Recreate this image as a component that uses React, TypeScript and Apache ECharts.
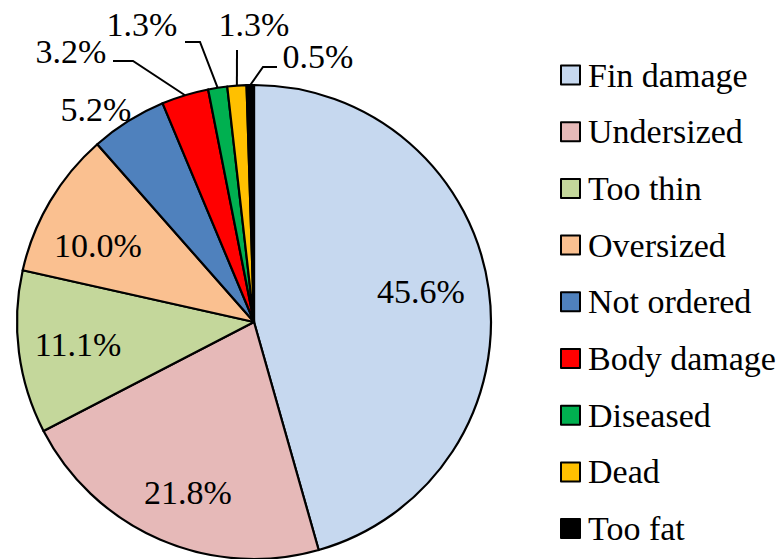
import React, { useEffect, useRef } from "react";
import * as echarts from "echarts";

const categories = ["Fin damage", "Undersized", "Too thin", "Oversized", "Not ordered", "Body damage", "Diseased", "Dead", "Too fat"];
const shares = [45.6, 21.8, 11.1, 10.0, 5.2, 3.2, 1.3, 1.3, 0.5];
const colors = ["#C6D8EF", "#E6B9B8", "#C4D79B", "#FAC090", "#4F81BD", "#FF0000", "#00B050", "#FFC000", "#000000"];

// label anchor (text center) for each slice, and leader line bend points for small slices
const labelPos: [number, number][] = [
  [421, 291], [188, 492], [78, 344], [98, 245], [96, 109], [71, 51], [142, 24], [254, 24], [318, 56],
];
const leaderBends: ([number, number][] | null)[] = [
  null, null, null, null, null,
  [[133, 61], [113, 61]],
  [[200, 42], [185, 42]],
  [[237, 50], [237, 50]],
  [[263, 67], [277, 67]],
];

const FONT = "Liberation Serif";
const CX = 254, CY = 322, R = 237;

export default function App() {
  const ref = useRef<HTMLDivElement>(null);
  useEffect(() => {
    if (!ref.current) return;
    const chart = echarts.init(ref.current, null, { renderer: "svg" });
    const total = shares.reduce((a, b) => a + b, 0);
    let cum = 0;
    const mids = shares.map((v) => {
      const m = ((cum + v / 2) / total) * Math.PI * 2;
      cum += v;
      return m;
    });
    chart.setOption({
      animation: false,
      backgroundColor: "#fff",
      textStyle: { fontFamily: FONT },
      legend: {
        orient: "vertical",
        left: 555,
        top: 53,
        icon: "rect",
        itemWidth: 19,
        itemHeight: 19,
        itemGap: 22.7,
        itemStyle: { borderColor: "#000", borderWidth: 2 },
        textStyle: { fontFamily: FONT, fontSize: 34, lineHeight: 34, color: "#000", padding: [0, 0, 0, 3] },
        data: categories,
      },
      series: [
        {
          type: "pie",
          center: [CX, CY],
          radius: R,
          startAngle: 90,
          clockwise: true,
          avoidLabelOverlap: false,
          itemStyle: { borderColor: "#000", borderWidth: 2.2 },
          emphasis: { disabled: true },
          label: {
            show: true,
            position: "outside",
            fontFamily: FONT,
            fontSize: 34,
            color: "#000",
            formatter: (p: any) => p.value.toFixed(1) + "%",
          },
          labelLine: { show: true, length: 10, length2: 10, lineStyle: { color: "#000", width: 2 } },
          labelLayout: (params: any) => {
            const i = params.dataIndex;
            const [x, y] = labelPos[i];
            const res: any = { x, y, align: "center", verticalAlign: "middle", hideOverlap: false, moveOverlap: null };
            const bends = leaderBends[i];
            if (bends) {
              const edge: [number, number] = [CX + R * Math.sin(mids[i]), CY - R * Math.cos(mids[i])];
              res.labelLinePoints = [edge, bends[0], bends[1]];
            }
            return res;
          },
          data: categories.map((name, i) => ({
            name,
            value: shares[i],
            itemStyle: { color: colors[i] },
            labelLine: { show: !!leaderBends[i] },
          })),
        },
      ],
    });
    return () => chart.dispose();
  }, []);
  return <div ref={ref} style={{ position: "absolute", left: 0, top: 0, width: 778, height: 559 }} />;
}
